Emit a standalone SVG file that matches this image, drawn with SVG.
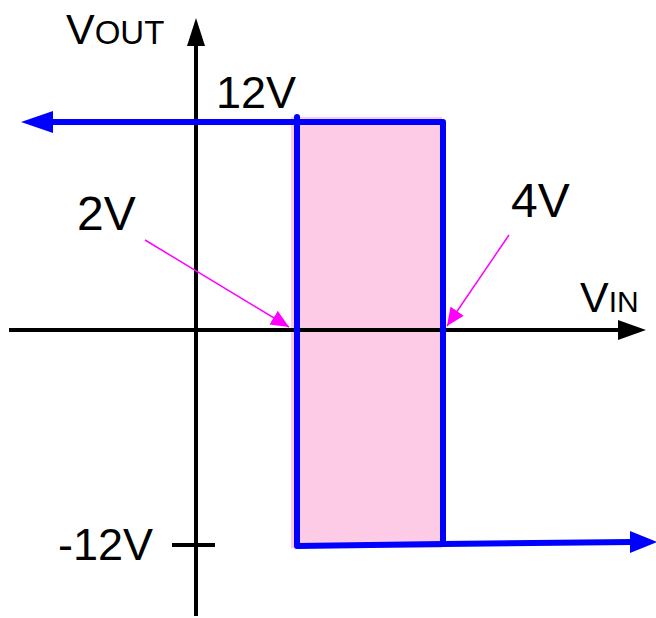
<svg xmlns="http://www.w3.org/2000/svg" width="656" height="618" viewBox="0 0 656 618">
<defs>
<style>
text{font-family:"Liberation Sans",Arial,sans-serif;fill:#000}
.ax{stroke:#000;stroke-width:4;fill:none}
.bl{stroke:#0000ff;stroke-width:6;fill:none;stroke-linejoin:round;stroke-linecap:round}
.mg{stroke:#ff00ff;stroke-width:1.5;fill:none}
</style>
<marker id="mgh" markerUnits="userSpaceOnUse" markerWidth="20" markerHeight="16" refX="18" refY="8" orient="auto"><path d="M0,0 L18,8 L0,16 Z" fill="#ff00ff"/></marker>
</defs>
<rect id="hysteresis" x="291" y="117" width="151" height="431" fill="#fdcbe6"/>
<g id="connectors">
<line class="ax" x1="196" y1="40" x2="196" y2="616"/>
<path d="M196,18 L187,46 L205,46 Z" fill="#000"/>
<line class="ax" x1="9" y1="330" x2="622" y2="330"/>
<path d="M646,330 L618,320 L618,340 Z" fill="#000"/>
<line class="ax" x1="172" y1="545" x2="215" y2="545"/>
<polyline class="bl" points="50,122 443,122 443,544 632,542"/>
<path d="M21,122 L53,111 L53,133 Z" fill="#0000ff"/>
<path d="M657,542 L630,531 L630,553 Z" fill="#0000ff"/>
<polyline class="bl" points="297,117 297,546 443,544"/>
<line class="mg" x1="145" y1="240" x2="289" y2="327" marker-end="url(#mgh)"/>
<line class="mg" x1="509" y1="235" x2="447" y2="326" marker-end="url(#mgh)"/>
</g>
<g id="labels">
<text x="66" y="44" font-size="43">V<tspan font-size="33">OUT</tspan></text>
<text x="216" y="108" font-size="45">12V</text>
<text x="77" y="230" font-size="48">2V</text>
<text x="511" y="217" font-size="48">4V</text>
<text x="580" y="312" font-size="43">V<tspan font-size="30">IN</tspan></text>
<text x="58" y="560" font-size="45">-12V</text>
</g>
</svg>
